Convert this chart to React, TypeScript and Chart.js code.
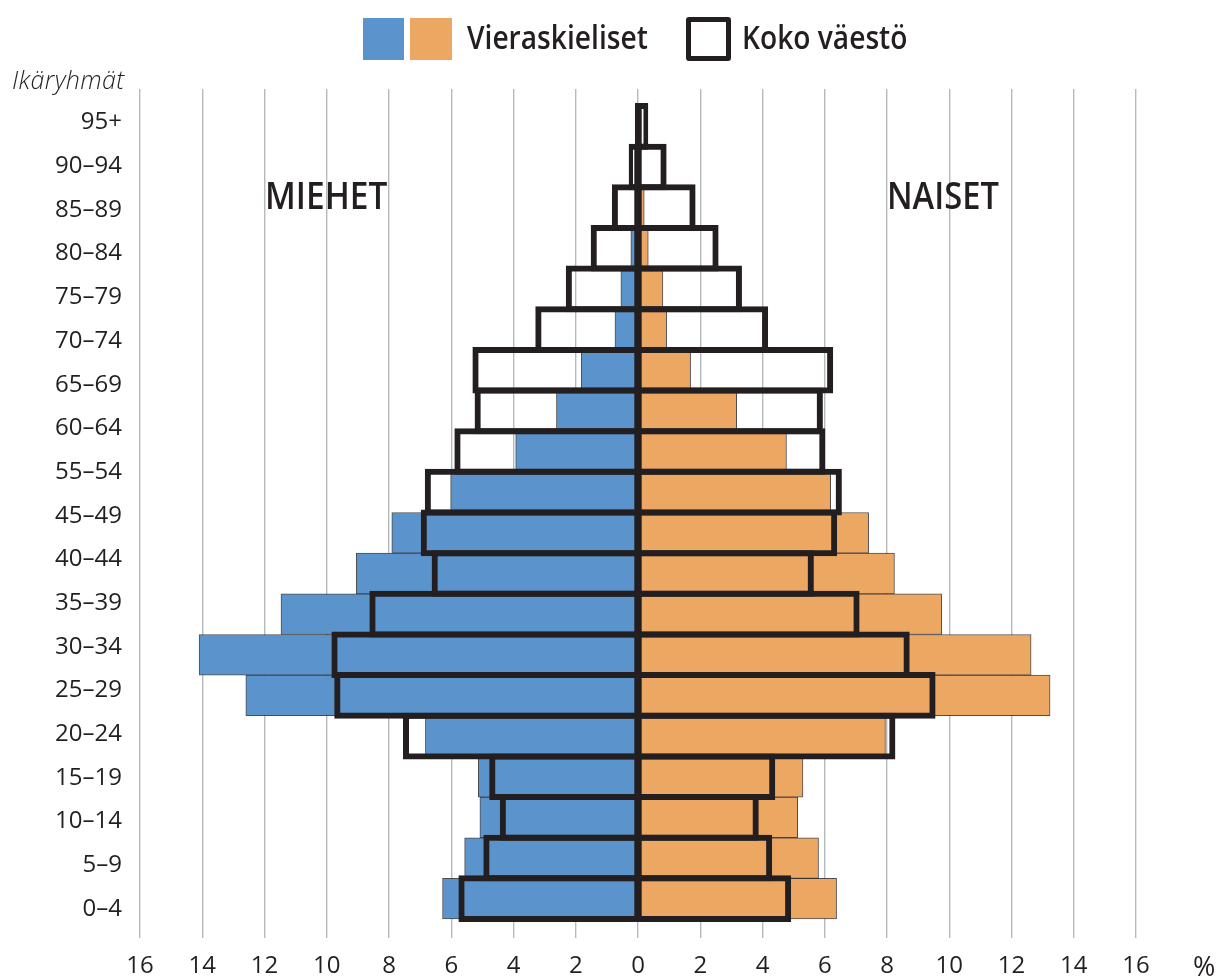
import React, { useEffect, useRef } from "react";
import { Chart, registerables } from "chart.js";

Chart.register(...registerables);

// Age groups, youngest first (one bar row each)
const ageGroups = [
  "0–4", "5–9", "10–14", "15–19", "20–24", "25–29", "30–34", "35–39", "40–44", "45–49",
  "50–54", "55–59", "60–64", "65–69", "70–74", "75–79", "80–84", "85–89", "90–94", "95+",
];

// Labels printed on the age axis of the reference (19 labels, bottom to top)
const axisLabels = [
  "0–4", "5–9", "10–14", "15–19", "20–24", "25–29", "30–34", "35–39", "40–44", "45–49",
  "55–54", "60–64", "65–69", "70–74", "75–79", "80–84", "85–89", "90–94", "95+",
];

// Vieraskieliset (foreign-language speakers), % of group, per age group
const foreignMen = [6.28, 5.57, 5.08, 5.13, 6.83, 12.6, 14.1, 11.47, 9.05, 7.91, 6.02, 3.93, 2.62, 1.82, 0.74, 0.55, 0.23, 0.05, 0.02, 0.01];
const foreignWomen = [6.38, 5.8, 5.13, 5.3, 7.95, 13.24, 12.63, 9.76, 8.24, 7.41, 6.19, 4.77, 3.17, 1.69, 0.92, 0.8, 0.33, 0.2, 0.06, 0.02];

// Koko väestö (whole population), % of group, per age group
const allMen = [5.77, 4.97, 4.44, 4.78, 7.55, 9.76, 9.85, 8.63, 6.63, 6.98, 6.85, 5.9, 5.25, 5.32, 3.3, 2.32, 1.52, 0.84, 0.3, 0.1];
const allWomen = [4.92, 4.31, 3.88, 4.41, 8.27, 9.56, 8.73, 7.12, 5.65, 6.4, 6.55, 6.02, 5.94, 6.27, 4.18, 3.34, 2.59, 1.85, 0.92, 0.33];

const X_MIN = -16;
const X_MAX = 16;
const X_STEP = 2;

const BLUE = "#5b94cc";
const ORANGE = "#eca762";
const INK = "#231f20";
const GRID = "#b4b9be";
const FONT = "'Open Sans', 'Noto Sans', sans-serif";

// layout constants (index-axis units)
const Y_MIN = -0.967;
const Y_MAX = 19.918;
const LABEL_FIRST = -0.254;
const LABEL_STEP = 1.0749;
const OUTLINE_PCT = 1.1476;
const STROKE = 6;

// thick zero line running the full height of the pyramid, placed via the scales
const zeroLinePlugin = {
  id: "zeroLine",
  afterDatasetsDraw(chart: any) {
    const { ctx, scales } = chart;
    const x0 = scales.x.getPixelForValue(0);
    const yTop = scales.y.getPixelForValue(ageGroups.length - 0.5);
    const yBottom = scales.y.getPixelForValue(-0.5);
    ctx.save();
    ctx.fillStyle = INK;
    ctx.fillRect(x0 - STROKE / 2, yTop - STROKE / 2, STROKE, yBottom - yTop + STROKE);
    ctx.restore();
  },
};

export default function App() {
  const ref = useRef<HTMLCanvasElement>(null);

  useEffect(() => {
    const canvas = ref.current;
    if (!canvas) return;
    Chart.defaults.font.family = FONT;
    const chart = new Chart(canvas, {
      type: "bar",
      data: {
        datasets: [
          {
            label: "Koko väestö, miehet",
            data: allMen.map((v, i) => ({ x: [-v, 0], y: i })) as any,
            backgroundColor: "rgba(0,0,0,0)",
            borderColor: INK,
            borderWidth: { top: STROKE, bottom: STROKE, left: STROKE, right: STROKE / 2 },
            borderSkipped: false,
            inflateAmount: 0,
            barPercentage: OUTLINE_PCT,
            categoryPercentage: 1,
            grouped: false,
            order: 0,
          },
          {
            label: "Koko väestö, naiset",
            data: allWomen.map((v, i) => ({ x: [0, v], y: i })) as any,
            backgroundColor: "rgba(0,0,0,0)",
            borderColor: INK,
            borderWidth: { top: STROKE, bottom: STROKE, left: STROKE / 2, right: STROKE },
            borderSkipped: false,
            inflateAmount: 0,
            barPercentage: OUTLINE_PCT,
            categoryPercentage: 1,
            grouped: false,
            order: 0,
          },
          {
            label: "Vieraskieliset, miehet",
            data: foreignMen.map((v, i) => ({ x: -v, y: i })) as any,
            backgroundColor: BLUE,
            borderColor: "rgba(35,31,32,0.8)",
            borderWidth: 1,
            borderSkipped: false,
            barPercentage: 1,
            categoryPercentage: 1,
            grouped: false,
            order: 1,
          },
          {
            label: "Vieraskieliset, naiset",
            data: foreignWomen.map((v, i) => ({ x: v, y: i })) as any,
            backgroundColor: ORANGE,
            borderColor: "rgba(35,31,32,0.8)",
            borderWidth: 1,
            borderSkipped: false,
            barPercentage: 1,
            categoryPercentage: 1,
            grouped: false,
            order: 1,
          },
        ],
      },
      options: {
        indexAxis: "y",
        responsive: false,
        animation: false,
        devicePixelRatio: 1,
        layout: { padding: { top: 89, right: 83, left: 0, bottom: 0 } },
        plugins: { legend: { display: false }, tooltip: { enabled: false } },
        scales: {
          x: {
            type: "linear",
            min: X_MIN,
            max: X_MAX,
            ticks: {
              stepSize: X_STEP,
              autoSkip: false,
              maxRotation: 0,
              callback: (v: any) => String(Math.abs(Number(v))),
              color: INK,
              font: { family: FONT, size: 24 },
              padding: 14,
            },
            grid: { color: GRID, lineWidth: 1.4, drawTicks: false },
            border: { display: false },
            afterFit: (s: any) => {
              s.height = 42;
            },
          },
          y: {
            type: "linear",
            min: Y_MIN,
            max: Y_MAX,
            offset: false,
            bounds: "data",
            grid: { display: false, drawTicks: false },
            border: { display: false },
            afterBuildTicks: (s: any) => {
              s.ticks = axisLabels.map((_, j) => ({ value: LABEL_FIRST + j * LABEL_STEP }));
            },
            ticks: {
              autoSkip: false,
              callback: (_v: any, j: number) => axisLabels[j],
              color: INK,
              font: { family: FONT, size: 24 },
              padding: 18,
            },
            afterFit: (s: any) => {
              s.width = 140;
            },
          },
        },
      } as any,
      plugins: [zeroLinePlugin],
    });
    return () => chart.destroy();
  }, []);

  const text: React.CSSProperties = {
    position: "absolute",
    margin: 0,
    lineHeight: 1,
    whiteSpace: "nowrap",
    color: INK,
    fontFamily: FONT,
  };

  return (
    <div
      style={{
        position: "absolute",
        left: 0,
        top: 0,
        width: 1219,
        height: 980,
        background: "#ffffff",
        overflow: "hidden",
      }}
    >
      <canvas ref={ref} width={1219} height={980} style={{ position: "absolute", left: 0, top: 0, width: 1219, height: 980 }} />
      {/* legend */}
      <div style={{ position: "absolute", left: 363, top: 18, width: 41, height: 42, background: BLUE }} />
      <div style={{ position: "absolute", left: 410, top: 18, width: 42, height: 42, background: ORANGE }} />
      <div style={{ ...text, left: 467, top: 21, fontSize: 32, fontWeight: 600, transform: "scaleX(0.88)", transformOrigin: "left top" }}>
        Vieraskieliset
      </div>
      <div
        style={{
          position: "absolute",
          left: 686,
          top: 17,
          width: 45,
          height: 44,
          border: `5px solid ${INK}`,
          borderRadius: 3,
          boxSizing: "border-box",
          background: "#fff",
        }}
      />
      <div style={{ ...text, left: 742, top: 21, fontSize: 32, fontWeight: 600, transform: "scaleX(0.88)", transformOrigin: "left top" }}>
        Koko väestö
      </div>
      {/* axis title */}
      <div style={{ ...text, left: 12, top: 67, fontSize: 25, fontStyle: "italic", fontWeight: 300, letterSpacing: 0.4 }}>Ikäryhmät</div>
      {/* side labels */}
      <div style={{ ...text, left: 265, top: 175, fontSize: 38, fontWeight: 600, transform: "scaleX(0.88)", transformOrigin: "left top" }}>
        MIEHET
      </div>
      <div style={{ ...text, left: 887, top: 175, fontSize: 38, fontWeight: 600, transform: "scaleX(0.86)", transformOrigin: "left top" }}>
        NAISET
      </div>
      {/* unit */}
      <div style={{ ...text, left: 1193, top: 952, fontSize: 27 }}>%</div>
    </div>
  );
}
